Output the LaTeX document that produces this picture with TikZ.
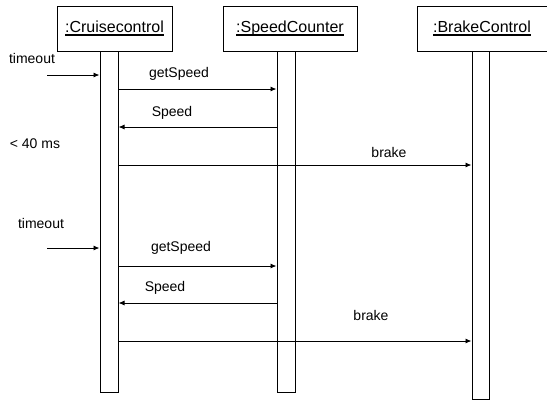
\documentclass[tikz,border=0pt]{standalone}
\usepackage{fontspec}
\setmainfont{Liberation Sans}
\usetikzlibrary{arrows.meta}
% object name with a heavier underline
\newcommand\objname[1]{\setbox0\hbox{#1}\rlap{\copy0}\raisebox{-3pt}{\rule{\wd0}{1.5pt}}}
\begin{document}
\begin{tikzpicture}[x=1pt,y=-1pt,
  obj/.style={draw,line width=1pt,minimum height=45pt,inner sep=0pt,font=\fontsize{16}{18}\selectfont},
  bar/.style={draw,line width=1pt,inner sep=0pt,minimum width=18pt},
  msg/.style={line width=0.9pt,-{Latex[length=6pt,width=5pt]}},
  lbl/.style={font=\fontsize{14}{16}\selectfont,inner sep=0pt,anchor=base}]
\useasboundingbox (0,0) rectangle (547,400);
% object headers
\node[obj,minimum width=115pt] (cc) at (114.5,28.5) {\objname{:Cruisecontrol}};
\node[obj,minimum width=134pt] (sc) at (290,28.5) {\objname{:SpeedCounter}};
\node[obj,minimum width=130pt] (bc) at (482,28.5) {\objname{:BrakeControl}};
% activation bars
\node[bar,minimum height=341pt] (ccb) at (109,221.5) {};
\node[bar,minimum height=341pt] (scb) at (286,221.5) {};
\node[bar,minimum width=17pt,minimum height=348pt] (bcb) at (480.5,225) {};
% external trigger starts
\coordinate (t1) at (47,75);
\coordinate (t2) at (47,248);
% first cycle
\draw[msg] (t1) -- (t1 -| ccb.west);
\draw[msg] (ccb.east |- 0,89) -- (scb.west |- 0,89);
\draw[msg] (scb.west |- 0,127) -- (ccb.east |- 0,127);
\draw[msg] (ccb.east |- 0,165) -- (bcb.west |- 0,165);
% second cycle
\draw[msg] (t2) -- (t2 -| ccb.west);
\draw[msg] (ccb.east |- 0,266) -- (scb.west |- 0,266);
\draw[msg] (scb.west |- 0,303) -- (ccb.east |- 0,303);
\draw[msg] (ccb.east |- 0,341) -- (bcb.west |- 0,341);
% labels
\node[lbl] (l1) at (32,63) {timeout};
\node[lbl] (l2) at (179,77) {getSpeed};
\node[lbl] (l3) at (172,116) {Speed};
\node[lbl] (l4) at (35,148) {< 40 ms};
\node[lbl] (l5) at (389,157) {brake};
\node[lbl] (l6) at (41,228) {timeout};
\node[lbl] (l7) at (181,251) {getSpeed};
\node[lbl] (l8) at (165,291) {Speed};
\node[lbl] (l9) at (371,320) {brake};
\end{tikzpicture}
\end{document}
